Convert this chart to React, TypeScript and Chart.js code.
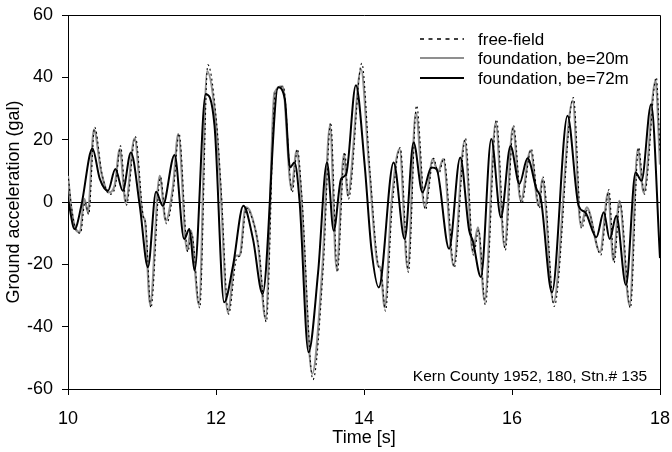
import React, { useEffect, useRef } from "react";
import { Chart, registerables } from "chart.js";

Chart.register(...registerables);

// ---- data ----
const xTicks = [10, 12, 14, 16, 18];
const yTicks = [-60, -40, -20, 0, 20, 40, 60];

const ffTime = [
  10.0, 10.05, 10.11, 10.17, 10.23, 10.28, 10.36, 10.46, 10.56, 10.64, 10.71, 10.79, 10.91, 11.02, 11.05,
  11.12, 11.25, 11.33, 11.43, 11.5, 11.62, 11.67, 11.78, 11.89, 12.01, 12.07, 12.17, 12.28, 12.33, 12.41,
  12.47, 12.58, 12.68, 12.8, 12.91, 13.03, 13.1, 13.16, 13.31, 13.45, 13.55, 13.64, 13.74, 13.79, 13.97,
  14.08, 14.2, 14.23, 14.29, 14.38, 14.49, 14.6, 14.71, 14.83, 14.94, 15.01, 15.08, 15.22, 15.37, 15.48,
  15.55, 15.64, 15.79, 15.91, 16.02, 16.13, 16.26, 16.37, 16.42, 16.57, 16.83, 16.94, 17.02, 17.2, 17.31,
  17.38, 17.46, 17.6, 17.71, 17.79, 17.95, 18.0,
];
const ffAcc = [
  9, -2, -9, -10, 0, -4, 24, 9, 2.5, 5, 18, -1, 21, -5, -7,
  -34, 8, -7, 5, 22, -16, -10, -34, 44, 25, 4, -36, -18, -17, -2,
  -4, -15, -38.5, 35, 37, 3, 17, 2, -57, -21, 25.5, -22.5, 16, 1, 44.5,
  10, -21, -22, -35, -2, 17.5, -22.5, 31, -2.5, 14, 9, 14, -21, 20.5, -17,
  -9, -33, 26.5, -15.5, 24.5, -0.5, 17, -2, 8, -33.5, 33.5, -8.5, -2.5, -17, 4,
  -19.5, 0, -34, 17.5, 2.5, 40, 16,
];

const f20Time = [
  10.0, 10.04, 10.1, 10.16, 10.22, 10.27, 10.35, 10.45, 10.55, 10.63, 10.7, 10.78, 10.9, 11.01, 11.04,
  11.11, 11.24, 11.32, 11.42, 11.49, 11.61, 11.66, 11.77, 11.88, 12.0, 12.06, 12.16, 12.27, 12.32, 12.4,
  12.46, 12.57, 12.67, 12.79, 12.9, 13.02, 13.09, 13.15, 13.3, 13.44, 13.54, 13.63, 13.73, 13.78, 13.96,
  14.07, 14.19, 14.22, 14.28, 14.37, 14.48, 14.59, 14.7, 14.82, 14.93, 15.0, 15.07, 15.21, 15.36, 15.47,
  15.54, 15.63, 15.78, 15.9, 16.01, 16.12, 16.25, 16.36, 16.41, 16.56, 16.82, 16.93, 17.01, 17.19, 17.3,
  17.37, 17.45, 17.59, 17.7, 17.78, 17.94, 18.0,
];
const f20Acc = [
  8.4, -1.2, -8.5, -9.7, 1, -3.3, 23.2, 9.5, 3.1, 5.2, 17, -0.3, 20.4, -4.4, -6,
  -33, 8.4, -6, 5.2, 21.8, -15.6, -9.2, -33, 42, 25.5, 5, -35.4, -17.2, -17.2, -1.7,
  -3, -14, -37.5, 35.1, 37.1, 4.2, 16.5, 3, -55.1, -20.4, 24.5, -21.5, 15.4, 2, 42.6,
  11, -20.4, -21, -33.8, -1, 17, -21.5, 28.7, -1.7, 13.8, 9.6, 13.8, -20.4, 19.7, -16.1,
  -8.1, -31.6, 25.5, -14.5, 23.9, 0.4, 16.5, -1.2, 7.4, -32.2, 32.5, -7.6, -1.7, -16.1, 3.1,
  -18.8, 0.4, -33.2, 17, 3.1, 38.9, 12,
];

const f72Time = [
  10.0, 10.09, 10.18, 10.33, 10.43, 10.54, 10.64, 10.74, 10.85, 10.97, 11.08, 11.19, 11.28, 11.44, 11.57,
  11.64, 11.71, 11.86, 11.98, 12.11, 12.23, 12.37, 12.5, 12.63, 12.84, 12.93, 13.0, 13.06, 13.13, 13.25,
  13.38, 13.5, 13.59, 13.69, 13.76, 13.89, 14.01, 14.1, 14.2, 14.4, 14.55, 14.67, 14.79, 14.91, 14.98,
  15.15, 15.3, 15.42, 15.47, 15.58, 15.72, 15.85, 15.98, 16.1, 16.21, 16.33, 16.39, 16.54, 16.75, 16.9,
  16.99, 17.14, 17.24, 17.32, 17.41, 17.54, 17.67, 17.75, 17.88, 18.0,
];
const f72Acc = [
  1, -8.7, -1.2, 17.2, 7.4, 3.6, 10.6, 3.6, 15.9, -1.2, -20.9, 3.3, -1.2, 15.1, -11.9,
  -8.7, -22, 34.6, 24.5, -32.2, -20.4, -1.2, -11.9, -29.5, 36.8, 33, 11.1, 12.7, 0, -48.2,
  -22.5, 12.7, -9.2, 7.4, 9, 37.5, 11.6, -15, -27.4, 12.7, -11.9, 19.1, 3.1, 11.1, 10.6,
  -15, 14.3, -9, -12.4, -24.1, 20.2, -4.9, 18, 5.8, 14, 4.2, 1, -29, 27.7, -1.2,
  -3.3, -11.3, -3.3, -11.9, -4.4, -26.6, 9.5, 6.8, 31.4, -18,
];

const seriesLabels = ["free-field", "foundation, be=20m", "foundation, be=72m"];
const noteText = "Kern County 1952, 180, Stn.# 135";

const FONT = "'Liberation Sans', Arial, Helvetica, sans-serif";
const GRAY = "#8f8f8f";

const toPts = (t: number[], v: number[]) => t.map((x, i) => ({ x, y: v[i] }));

const decorPlugin = {
  id: "decor",
  beforeDatasetsDraw(chart: any) {
    const { ctx, chartArea, scales } = chart;
    const y0 = Math.round(scales.y.getPixelForValue(0)) + 0.5;
    ctx.save();
    ctx.strokeStyle = "#000";
    ctx.lineWidth = 1;
    ctx.beginPath();
    ctx.moveTo(chartArea.left, y0);
    ctx.lineTo(chartArea.right, y0);
    ctx.stroke();
    ctx.restore();
  },
  afterDraw(chart: any) {
    const { ctx, chartArea } = chart;
    ctx.save();
    // frame top & right
    ctx.strokeStyle = "#000";
    ctx.lineWidth = 1;
    ctx.beginPath();
    ctx.moveTo(chartArea.left, Math.round(chartArea.top) + 0.5);
    ctx.lineTo(Math.round(chartArea.right) + 0.5, Math.round(chartArea.top) + 0.5);
    ctx.lineTo(Math.round(chartArea.right) + 0.5, chartArea.bottom);
    ctx.stroke();

    // legend
    const rows = [39, 58, 78];
    const styles = [
      { color: "#000", width: 1.6, dash: [4, 4.5] },
      { color: GRAY, width: 2, dash: [] as number[] },
      { color: "#000", width: 2, dash: [] as number[] },
    ];
    ctx.font = `17px ${FONT}`;
    ctx.textBaseline = "middle";
    ctx.textAlign = "left";
    rows.forEach((ry, i) => {
      const s = styles[i];
      ctx.beginPath();
      ctx.setLineDash(s.dash);
      ctx.strokeStyle = s.color;
      ctx.lineWidth = s.width;
      ctx.moveTo(420, ry);
      ctx.lineTo(464, ry);
      ctx.stroke();
      ctx.setLineDash([]);
      ctx.fillStyle = "#000";
      ctx.fillText(seriesLabels[i], 478, ry + 1);
    });

    // note
    ctx.font = `15.5px ${FONT}`;
    ctx.textAlign = "center";
    ctx.fillText(noteText, 530, 377);
    ctx.restore();
  },
};

export default function App() {
  const ref = useRef<HTMLCanvasElement | null>(null);
  useEffect(() => {
    if (!ref.current) return;
    const chart = new Chart(ref.current, {
      type: "line",
      data: {
        datasets: [
          {
            label: seriesLabels[2],
            data: toPts(f72Time, f72Acc),
            borderColor: "#000",
            borderWidth: 2,
            pointRadius: 0,
            cubicInterpolationMode: "monotone",
            fill: false,
          },
          {
            label: seriesLabels[0],
            data: toPts(ffTime, ffAcc),
            borderColor: "#000",
            borderWidth: 1.1,
            borderDash: [2, 3],
            pointRadius: 0,
            cubicInterpolationMode: "monotone",
            fill: false,
          },
          {
            label: seriesLabels[1],
            data: toPts(f20Time, f20Acc),
            borderColor: GRAY,
            borderWidth: 2.2,
            pointRadius: 0,
            cubicInterpolationMode: "monotone",
            fill: false,
          },
        ],
      },
      options: {
        animation: false,
        responsive: false,
        maintainAspectRatio: false,
        layout: { padding: { top: 15, right: 12, left: 0, bottom: 0 } },
        plugins: { legend: { display: false }, tooltip: { enabled: false } },
        scales: {
          x: {
            type: "linear",
            min: 10,
            max: 18,
            afterBuildTicks: (s: any) => {
              s.ticks = xTicks.map((v) => ({ value: v }));
            },
            afterFit: (s: any) => {
              s.height = 63;
              s.paddingLeft = 0;
              s.paddingRight = 0;
            },
            grid: { display: true, drawOnChartArea: false, tickLength: 6, color: "#000", lineWidth: 1 },
            border: { display: true, color: "#000", width: 1 },
            ticks: { color: "#000", font: { family: FONT, size: 18 }, padding: 13, maxRotation: 0 },
            title: {
              display: true,
              text: "Time [s]",
              color: "#000",
              font: { family: FONT, size: 18 },
              padding: { top: 0, bottom: 3 },
            },
          },
          y: {
            min: -60,
            max: 60,
            afterBuildTicks: (s: any) => {
              s.ticks = yTicks.map((v) => ({ value: v }));
            },
            afterFit: (s: any) => {
              s.width = 68;
              s.paddingTop = 0;
              s.paddingBottom = 0;
            },
            grid: { display: true, drawOnChartArea: false, tickLength: 6, color: "#000", lineWidth: 1 },
            border: { display: true, color: "#000", width: 1 },
            ticks: { color: "#000", font: { family: FONT, size: 18 }, padding: 9 },
            title: {
              display: true,
              text: "Ground acceleration (gal)",
              color: "#000",
              font: { family: FONT, size: 18 },
              padding: { top: 3, bottom: 0 },
            },
          },
        },
      },
      plugins: [decorPlugin],
    } as any);
    return () => chart.destroy();
  }, []);
  return (
    <div style={{ position: "absolute", left: 0, top: 0, width: 672, height: 452, background: "#fff" }}>
      <canvas ref={ref} width={672} height={452} style={{ width: 672, height: 452, display: "block" }} />
    </div>
  );
}
